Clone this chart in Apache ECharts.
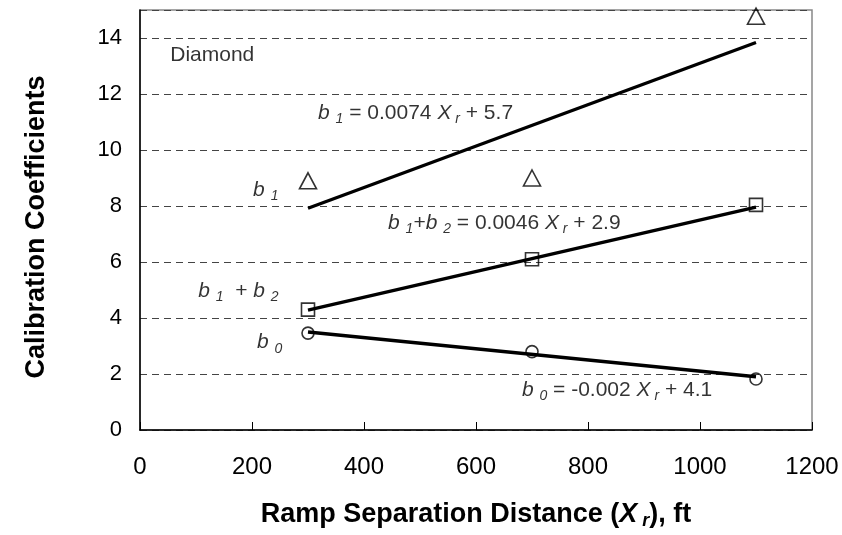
<!DOCTYPE html>
<html>
<head>
<meta charset="utf-8">
<script src="https://cdn.jsdelivr.net/npm/echarts@6/dist/echarts.min.js"></script>
<style>
  html, body { margin: 0; padding: 0; background: #fff; }
  #chart { width: 842px; height: 535px; }
</style>
</head>
<body>
<div id="chart"></div>
<script>
// Ramp separation distances (ft) at which coefficients were calibrated
var rampDistance = [300, 700, 1100];

// Calibrated coefficient values
var b1Values = [8.9, 9.0, 14.78];
var b1b2Values = [4.3, 6.1, 8.04];
var b0Values = [3.46, 2.8, 1.82];

// Linear fit endpoints (x, y) for each coefficient
var b1Fit = [[300, 7.92], [1100, 13.84]];
var b1b2Fit = [[300, 4.28], [1100, 7.96]];
var b0Fit = [[300, 3.5], [1100, 1.9]];

// Axis ticks
var xTicks = [0, 200, 400, 600, 800, 1000, 1200];
var yTicks = [0, 2, 4, 6, 8, 10, 12, 14];

// Text annotations placed in data coordinates
var noteTexts = [
  'Diamond',
  '{i|b} {s|1} = 0.0074 {i|X}{s| r} + 5.7',
  '{i|b} {s|1}',
  '{i|b} {s|1}  + {i|b} {s|2}',
  '{i|b} {s|0}',
  '{i|b} {s|1}+{i|b} {s|2} = 0.0046 {i|X}{s| r} + 2.9',
  '{i|b} {s|0} = -0.002 {i|X}{s| r} + 4.1'
];
var noteX = [54, 318, 202, 104, 209, 443, 682];
var noteY = [13.4, 11.3, 8.55, 4.95, 3.12, 7.4, 1.42];

var FONT = 'Liberation Sans, Arial, sans-serif';

function pairs(xs, ys) {
  return xs.map(function (x, i) { return [x, ys[i]]; });
}

var richStyles = {
  i: { fontStyle: 'italic', fontSize: 21, fontFamily: FONT, color: '#000' },
  s: { fontStyle: 'italic', fontSize: 14, fontFamily: FONT, color: '#000', padding: [12, 0, 0, 0] }
};

function markerStyle() {
  return { color: 'rgba(0,0,0,0)', borderColor: '#000', borderWidth: 1.6 };
}

function fitLine(name, pts) {
  return {
    name: name,
    type: 'line',
    data: pts,
    symbol: 'none',
    lineStyle: { color: '#000', width: 3.4 },
    silent: true,
    z: 3
  };
}

var chart = echarts.init(document.getElementById('chart'), null, { renderer: 'canvas' });

chart.setOption({
  animation: false,
  backgroundColor: '#fff',
  textStyle: { fontFamily: FONT },
  grid: {
    left: 140, right: 30, top: 10, bottom: 105,
    show: true, borderColor: '#888', borderWidth: 1.5, backgroundColor: 'transparent'
  },
  xAxis: {
    type: 'value',
    min: xTicks[0],
    max: xTicks[xTicks.length - 1],
    interval: 200,
    name: 'Ramp Separation Distance ({bi|X}{bs| r}), ft',
    nameLocation: 'middle',
    nameGap: 70,
    nameTextStyle: {
      fontSize: 27, fontWeight: 'bold', color: '#000', fontFamily: FONT,
      rich: {
        bi: { fontSize: 27, fontWeight: 'bold', fontStyle: 'italic', fontFamily: FONT, color: '#000' },
        bs: { fontSize: 18, fontWeight: 'bold', fontStyle: 'italic', fontFamily: FONT, color: '#000', padding: [12, 0, 0, 0] }
      }
    },
    axisLine: { show: true, onZero: false, lineStyle: { color: '#000', width: 1.5 } },
    axisTick: { show: true, inside: true, length: 8, lineStyle: { color: '#000', width: 1 } },
    axisLabel: {
      fontSize: 24, color: '#000', margin: 25, fontFamily: FONT,
      formatter: function (v) { return String(v); }
    },
    splitLine: { show: false }
  },
  yAxis: {
    type: 'value',
    min: 0,
    max: 15,
    interval: 2,
    name: 'Calibration Coefficients',
    nameLocation: 'middle',
    nameRotate: 90,
    nameGap: 90,
    nameTextStyle: { fontSize: 27, fontWeight: 'bold', color: '#000', fontFamily: FONT, padding: [0, 14, 0, 0] },
    axisLine: { show: true, onZero: false, lineStyle: { color: '#000', width: 1.5 } },
    axisTick: { show: false },
    axisLabel: {
      fontSize: 22, color: '#000', margin: 18, fontFamily: FONT,
      formatter: function (v) { return yTicks.indexOf(v) >= 0 ? String(v) : ''; }
    },
    splitLine: { show: true, lineStyle: { color: '#444', width: 1, type: [7, 5] } }
  },
  series: [
    fitLine('b1 fit', b1Fit),
    fitLine('b1+b2 fit', b1b2Fit),
    fitLine('b0 fit', b0Fit),
    {
      name: 'b1',
      type: 'scatter',
      data: pairs(rampDistance, b1Values),
      symbol: 'triangle',
      symbolSize: [17, 16],
      itemStyle: markerStyle(),
      z: 4
    },
    {
      name: 'b1+b2',
      type: 'scatter',
      data: pairs(rampDistance, b1b2Values),
      symbol: 'rect',
      symbolSize: 13,
      itemStyle: markerStyle(),
      z: 4
    },
    {
      name: 'b0',
      type: 'scatter',
      data: pairs(rampDistance, b0Values),
      symbol: 'circle',
      symbolSize: 12,
      itemStyle: markerStyle(),
      z: 4
    },
    {
      name: 'notes',
      type: 'scatter',
      data: pairs(noteX, noteY),
      symbolSize: 0,
      silent: true,
      z: 5,
      label: {
        show: true,
        position: 'right',
        distance: 0,
        fontSize: 21,
        color: '#000',
        fontFamily: FONT,
        formatter: function (p) { return noteTexts[p.dataIndex]; },
        rich: richStyles
      }
    }
  ]
});
</script>
</body>
</html>
